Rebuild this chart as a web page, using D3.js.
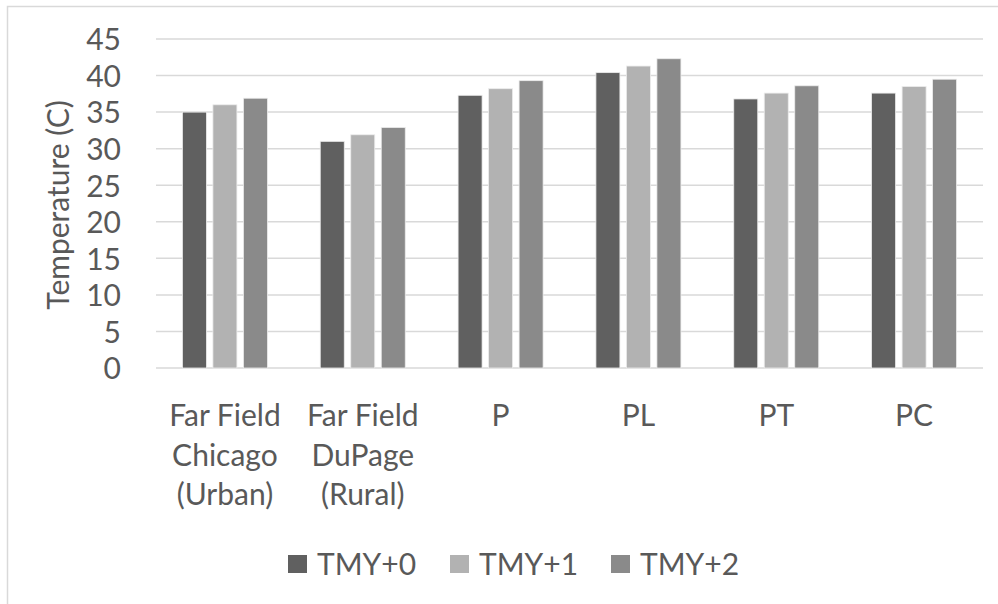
<!DOCTYPE html>
<html>
<head>
<meta charset="utf-8">
<script src="https://cdn.jsdelivr.net/npm/d3@7"></script>
<style>
  html, body { margin: 0; padding: 0; background: #ffffff; }
  svg text { font-family: Lato, "Open Sans", sans-serif; fill: #595959; }
</style>
</head>
<body>
<svg id="chart" width="998" height="604"></svg>
<script>
const categories = ["Far Field Chicago (Urban)", "Far Field DuPage (Rural)", "P", "PL", "PT", "PC"];
const seriesNames = ["TMY+0", "TMY+1", "TMY+2"];
const tmy0 = [35.0, 31.0, 37.3, 40.4, 36.8, 37.6];
const tmy1 = [36.0, 31.9, 38.2, 41.3, 37.6, 38.5];
const tmy2 = [36.9, 32.9, 39.3, 42.3, 38.6, 39.5];
const yTicks = [0, 5, 10, 15, 20, 25, 30, 35, 40, 45];
const yTitle = "Temperature (C)";
const colors = ["#606060", "#b2b2b2", "#8a8a8a"];

const seriesValues = [tmy0, tmy1, tmy2];
const rows = categories.map((c, i) => ({
  cat: c,
  vals: seriesNames.map((s, j) => ({ s, v: seriesValues[j][i] }))
}));

const svg = d3.select("#chart");

// chart frame
svg.append("rect")
  .attr("x", 7.5).attr("y", 6.5)
  .attr("width", 1100).attr("height", 700)
  .attr("fill", "none").attr("stroke", "#d9d9d9").attr("stroke-width", 1.5);

const plot = { left: 156, right: 983, top: 39, bottom: 368 };

const y = d3.scaleLinear().domain([0, 45]).range([plot.bottom, plot.top]);
const x0 = d3.scaleBand().domain(categories).range([plot.left, plot.right]).paddingInner(0).paddingOuter(0);
const x1 = d3.scaleBand().domain(seriesNames).range([0, x0.bandwidth()]).paddingInner(0.213).paddingOuter(0.866);
const color = d3.scaleOrdinal().domain(seriesNames).range(colors);

// gridlines
svg.append("g")
  .selectAll("line")
  .data(yTicks)
  .join("line")
  .attr("x1", plot.left).attr("x2", plot.right)
  .attr("y1", d => y(d)).attr("y2", d => y(d))
  .attr("stroke", "#d9d9d9").attr("stroke-width", 1.5);

// y axis labels
const yAxis = d3.axisLeft(y).tickValues(yTicks).tickSize(0).tickPadding(0);
const yg = svg.append("g").attr("transform", `translate(121,0)`).call(yAxis);
yg.select(".domain").remove();
yg.selectAll("text")
  .attr("font-family", "Lato, sans-serif")
  .style("font-size", "30px")
  .attr("fill", "#595959")
  .attr("dy", "0.36em");

// bars
svg.append("g")
  .selectAll("g")
  .data(rows)
  .join("g")
  .attr("transform", d => `translate(${x0(d.cat)},0)`)
  .selectAll("rect")
  .data(d => d.vals)
  .join("rect")
  .attr("x", d => x1(d.s))
  .attr("width", x1.bandwidth())
  .attr("y", d => y(d.v))
  .attr("height", d => y(0) - y(d.v))
  .attr("fill", d => color(d.s))
  .attr("stroke", "#ececec")
  .attr("stroke-width", 0.8);

// x axis labels with wrapping
const xg = svg.append("g");
const lineH = 39.5;
categories.forEach(c => {
  const t = xg.append("text")
    .attr("x", x0(c) + x0.bandwidth() / 2)
    .attr("y", 426)
    .attr("text-anchor", "middle")
    .style("font-size", "30px");
  const words = c.split(" ");
  let lines = [];
  let cur = [];
  const probe = xg.append("text").style("font-size", "30px");
  words.forEach(w => {
    const test = cur.concat([w]).join(" ");
    probe.text(test);
    if (probe.node().getComputedTextLength() > x0.bandwidth() - 6 && cur.length) {
      lines.push(cur.join(" "));
      cur = [w];
    } else {
      cur.push(w);
    }
  });
  if (cur.length) lines.push(cur.join(" "));
  probe.remove();
  lines.forEach((l, i) => {
    t.append("tspan")
      .attr("x", x0(c) + x0.bandwidth() / 2)
      .attr("y", 426 + i * lineH)
      .text(l);
  });
});

// y title
svg.append("text")
  .attr("transform", `translate(69,205) rotate(-90)`)
  .attr("text-anchor", "middle")
  .style("font-size", "30px")
  .text(yTitle);

// legend
const legendX = [288, 450, 611];
const lg = svg.append("g");
seriesNames.forEach((s, i) => {
  lg.append("rect")
    .attr("x", legendX[i]).attr("y", 555)
    .attr("width", 19).attr("height", 18)
    .attr("fill", color(s));
  lg.append("text")
    .attr("x", legendX[i] + 29).attr("y", 575)
    .style("font-size", "30px")
    .text(s);
});
</script>
</body>
</html>
